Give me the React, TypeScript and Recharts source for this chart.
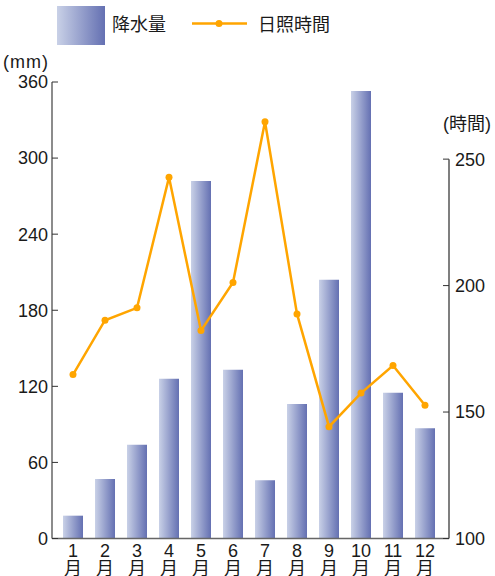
import React from 'react';
import { ComposedChart, Bar, Line, XAxis, YAxis } from 'recharts';

// monthly rainfall (mm) and sunshine hours
const months = ['1', '2', '3', '4', '5', '6', '7', '8', '9', '10', '11', '12'];
const rainfall = [18, 47, 74, 126, 282, 133, 46, 106, 204, 353, 115, 87];
const sunshine = [164.8, 186.3, 191.2, 242.8, 182.2, 201.2, 264.8, 188.8, 144.2, 157.5, 168.4, 152.7];
const rainTicks = [0, 60, 120, 180, 240, 300, 360];
const sunTicks = [100, 150, 200, 250];

const FONT = '"Liberation Sans", "Noto Sans CJK JP", sans-serif';
const ORANGE = '#ffa500';

const data = months.map((m, i) => ({ month: m, rain: rainfall[i], sun: sunshine[i] }));

const MonthTick = (props: any) => {
  const { x, y, payload } = props;
  return (
    <text x={x} y={y} textAnchor="middle" fill="#1a1a1a" fontSize={18} fontFamily={FONT}>
      <tspan x={x} dy={18.5}>{payload.value}</tspan>
      <tspan x={x} dy={18}>月</tspan>
    </text>
  );
};

const tickStyle = { fill: '#1a1a1a', fontSize: 18, fontFamily: FONT };

export default function App() {
  return (
    <div style={{ position: 'absolute', left: 0, top: 0, width: 495, height: 576, fontFamily: FONT }}>
      <svg width={0} height={0} style={{ position: 'absolute' }}>
        <defs>
          <linearGradient id="barGrad" x1="0" y1="0" x2="1" y2="0">
            <stop offset="0%" stopColor="#c9d1e7" />
            <stop offset="100%" stopColor="#6470b2" />
          </linearGradient>
        </defs>
      </svg>

      <ComposedChart
        width={495}
        height={576}
        data={data}
        margin={{ top: 82, right: 0, bottom: 0, left: 0 }}
      >
        <XAxis
          dataKey="month"
          height={37.5}
          padding={{ left: 5, right: 8 }}
          tickLine={false}
          tickSize={0}
          tickMargin={0}
          axisLine={{ stroke: '#666', strokeWidth: 1.5 }}
          tick={<MonthTick />}
          interval={0}
        />
        <YAxis
          yAxisId="rain"
          orientation="left"
          width={52}
          domain={[0, 360]}
          ticks={rainTicks}
          interval={0}
          tickSize={-6}
          tickMargin={10}
          tick={tickStyle}
          tickLine={{ stroke: '#333' }}
          axisLine={{ stroke: '#666', strokeWidth: 1.5 }}
        />
        <YAxis
          yAxisId="sun"
          orientation="right"
          width={46}
          domain={[100, 280.5]}
          ticks={sunTicks}
          interval={0}
          tickSize={-6}
          tickMargin={12}
          tick={{ ...tickStyle, textAnchor: 'start' }}
          tickLine={{ stroke: '#333' }}
          axisLine={{ stroke: '#555', strokeWidth: 1.5, strokeDasharray: '0 77.3 420' }}
        />
        <Bar yAxisId="rain" dataKey="rain" barSize={20} fill="url(#barGrad)" isAnimationActive={false} />
        <Line
          yAxisId="sun"
          dataKey="sun"
          type="linear"
          stroke={ORANGE}
          strokeWidth={2.5}
          dot={{ r: 3.5, fill: ORANGE, stroke: ORANGE, strokeWidth: 0 }}
          isAnimationActive={false}
        />
      </ComposedChart>

      <svg width={495} height={140} style={{ position: 'absolute', left: 0, top: 0, pointerEvents: 'none' }}>
        <rect x={57} y={6} width={48} height={39} fill="url(#barGrad)" />
        <text x={112} y={31} fontSize={18} fill="#1a1a1a" fontFamily={FONT}>降水量</text>
        <line x1={192} x2={247} y1={23.5} y2={23.5} stroke={ORANGE} strokeWidth={2.5} />
        <circle cx={219} cy={23.5} r={3.5} fill={ORANGE} />
        <text x={258} y={31} fontSize={18} fill="#1a1a1a" fontFamily={FONT}>日照時間</text>
        <text x={3} y={68} fontSize={18} fill="#1a1a1a" fontFamily={FONT} letterSpacing={1}>(mm)</text>
        <text x={443} y={130} fontSize={18} fill="#1a1a1a" fontFamily={FONT}>(時間)</text>
      </svg>
    </div>
  );
}
